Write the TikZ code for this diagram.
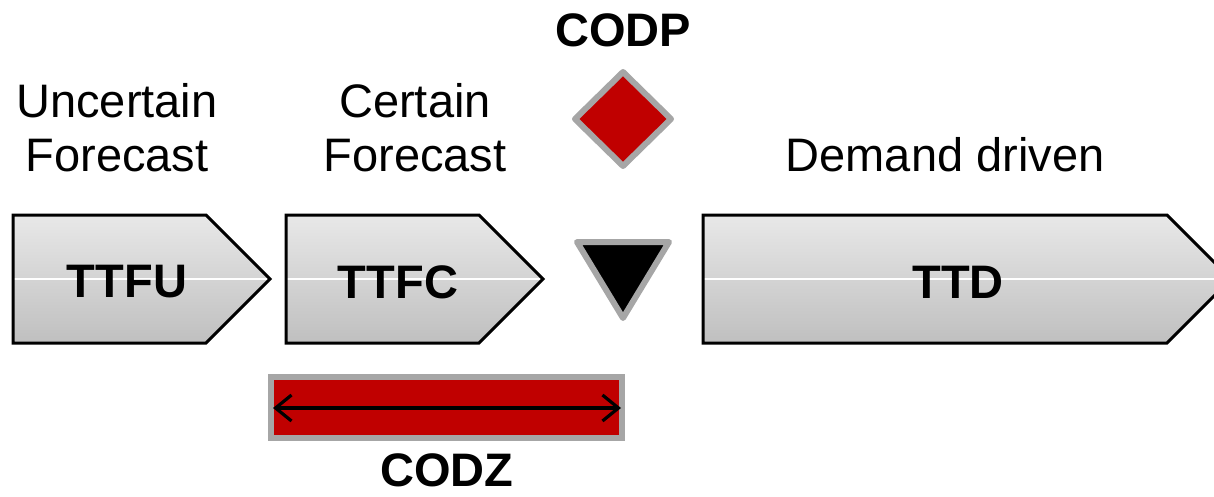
\documentclass[tikz,border=0pt]{standalone}
\usepackage{fontspec}
\setmainfont{Liberation Sans}
\usetikzlibrary{arrows.meta,calc}
\definecolor{codpred}{HTML}{C00000}
\definecolor{rimgray}{HTML}{A6A6A6}
\tikzset{
  x=1pt, y=-1pt,
  lbl/.style={font=\fontsize{47}{54}\selectfont, align=center, inner sep=0pt},
  blbl/.style={lbl, font=\fontsize{47}{54}\selectfont\bfseries},
  chevfill/.style={top color=black!9, bottom color=black!25, draw=none},
  chevline/.style={draw=black, line width=3pt, line join=miter},
  marker/.style={draw=rimgray, line width=6pt, line join=round},
  span/.style={line width=3.2pt, {Straight Barb[length=16pt,width=26pt,line width=3.2pt]}-{Straight Barb[length=16pt,width=26pt,line width=3.2pt]}}
}
% pentagon arrow: left x, body right x, tip x; top 215, bottom 343
\newcommand{\chevpath}[3]{(#1,215) -- (#2,215) -- (#3,279) -- (#2,343) -- (#1,343) -- cycle}
\newcommand{\chevron}[3]{%
  \fill[chevfill] \chevpath{#1}{#2}{#3};
  \draw[white, line width=1.5pt] (#1,279) -- (#3,279);
  \draw[chevline] \chevpath{#1}{#2}{#3};
}
\begin{document}
\begin{tikzpicture}
\useasboundingbox (0,0) rectangle (1214,497);
\clip (0,0) rectangle (1214,497);

% time segments
\chevron{13}{206}{270}
\chevron{286}{479}{543}
\chevron{703}{1167}{1231}
\node[blbl] (ttfu) at (127,282) {TTFU};
\node[blbl] (ttfc) at (398,282) {TTFC};
\node[blbl] (ttd)  at (958,282) {TTD};

% headings
\node[lbl] (unc) at (117,128) {Uncertain\\Forecast};
\node[lbl] (cer) at (415,128) {Certain\\Forecast};
\node[lbl] (dem) at (945,155) {Demand driven};
\node[blbl] (codp) at (623,30) {CODP};

% decoupling point markers
\draw[marker, fill=codpred] (623,72) -- (671,119) -- (623,166) -- (575,119) -- cycle;
\draw[marker, fill=black] (577,242) -- (669,242) -- (623,318) -- cycle;

% decoupling zone
\draw[marker, fill=codpred, line join=miter] (271,377) rectangle (622,438);
\coordinate (zl) at (273,408);
\coordinate (zr) at (621,408);
\draw[span] (zl) -- (zr);
\node[blbl] (codz) at (447,470) {CODZ};
\end{tikzpicture}
\end{document}
